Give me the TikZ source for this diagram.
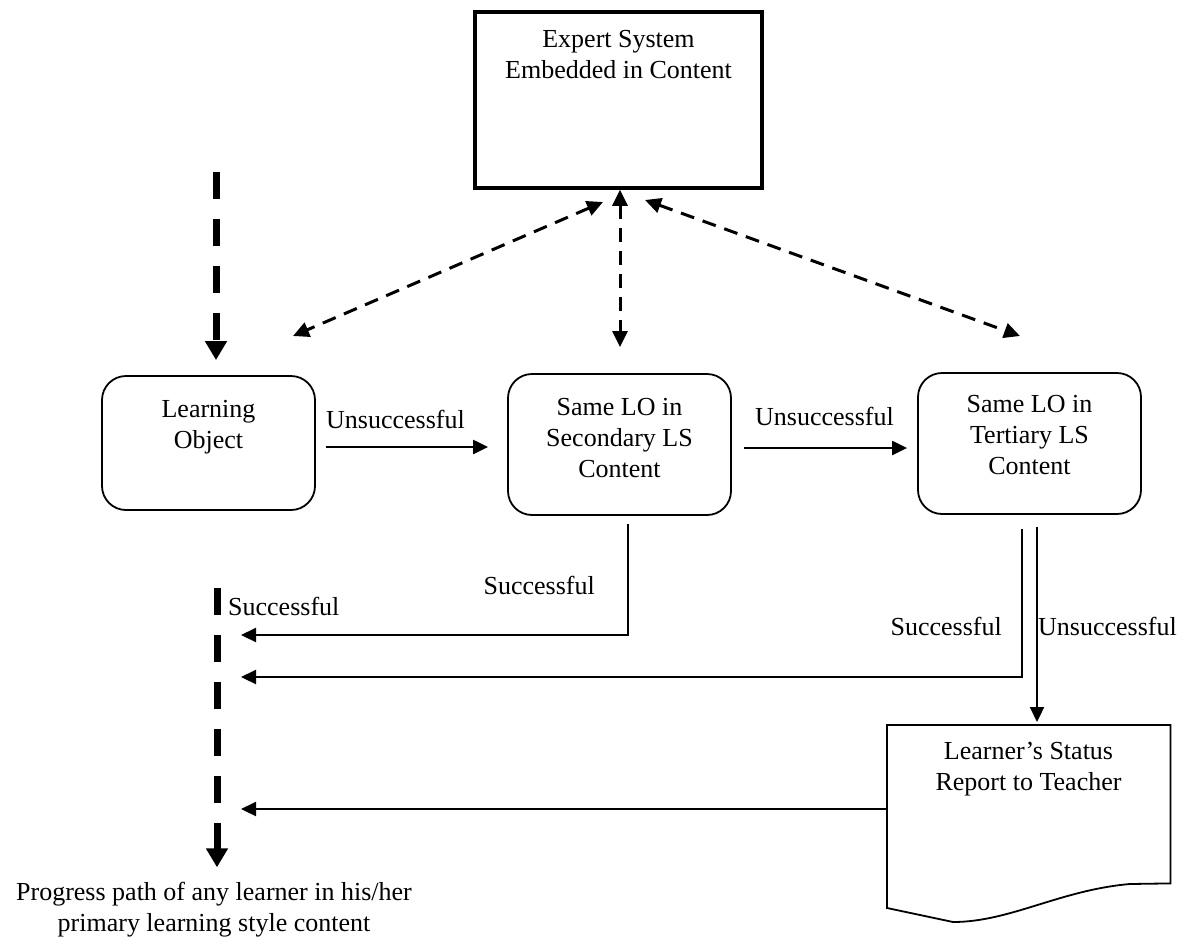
\documentclass[tikz,border=0pt]{standalone}
\usepackage{fontspec}
\setmainfont{Liberation Serif}
\usetikzlibrary{arrows.meta}
\begin{document}
\begin{tikzpicture}[x=1pt,y=-1pt,
  every node/.style={inner sep=0pt, font=\fontsize{26pt}{31pt}\selectfont},
  ebox/.style={draw, line width=3.5pt, minimum width=287pt, minimum height=176pt},
  rbox/.style={draw, line width=1.8pt, rounded corners=24pt, minimum width=223pt, minimum height=141pt},
  btxt/.style={align=center, anchor=north},
  lblw/.style={anchor=base west},
  lble/.style={anchor=base east},
  flow/.style={line width=2.2pt, -{Triangle[length=15pt,width=14pt]}},
  linkd/.style={line width=3pt, dash pattern=on 14pt off 9pt, {Triangle[length=16pt,width=15pt]}-{Triangle[length=16pt,width=15pt]}},
  pathd/.style={line width=7pt, dash pattern=on 27pt off 20pt, -{Triangle[length=19pt,width=21pt]}},
  docshape/.style={draw, line width=1.8pt}
]
\useasboundingbox (0,0) rectangle (1183,937);

% boxes
\node[ebox] (ex) at (618.5,100) {};
\node[rbox, minimum width=213pt, minimum height=134pt] (lo) at (208.5,443) {};
\node[rbox] (sec) at (619.5,444.5) {};
\node[rbox] (ter) at (1029.5,443.5) {};
\node[minimum width=283pt, minimum height=158pt, anchor=north west] (doc) at (887,725) {};
\draw[docshape] (doc.north west) -- (doc.north east) -- (doc.south east) -- (1130,884)
  .. controls (1060,890) and (1010,922) .. (953,922) -- (887,908) -- cycle;

% box texts
\node[btxt] (ext) at (618.5,25.3) {\strut Expert System\\\strut Embedded in Content};
\node[btxt] (lot) at (208.5,395.3) {\strut Learning\\\strut Object};
\node[btxt] (sect) at (619.5,393.3) {\strut Same LO in\\\strut Secondary LS\\\strut Content};
\node[btxt] (tert) at (1029.5,390.3) {\strut Same LO in\\\strut Tertiary LS\\\strut Content};
\node[btxt] (doct) at (1028.5,737.3) {\strut Learner’s Status\\\strut Report to Teacher};
\node[btxt] (prog) at (214,878.3) {\strut Progress path of any learner in his/her\\\strut primary learning style content};

% progress path (thick dashed)
\coordinate (pa) at (216,172);
\draw[pathd, shorten >=15pt] (pa) -- (pa |- lo.north);
\coordinate (pb) at (217,588);
\draw[pathd, shorten >=11pt] (pb) -- (pb |- prog.north);

% links to expert system
\coordinate (l1a) at (603,202);
\coordinate (l1b) at (293,336);
\draw[linkd] (l1a) -- (l1b);
\coordinate (vx) at (620,0);
\draw[linkd] (ex.south -| vx) -- ([yshift=26pt]sec.north -| vx);
\coordinate (l3a) at (645,200);
\coordinate (l3b) at (1020,336);
\draw[linkd] (l3a) -- (l3b);

% unsuccessful flows
\draw[flow] ([xshift=10pt,yshift=-4pt]lo.east) -- ([xshift=-19pt,yshift=-4pt]lo.east -| sec.west);
\draw[flow] ([xshift=12pt,yshift=-3.5pt]sec.east) -- ([xshift=-10pt,yshift=-3.5pt]sec.east -| ter.west);
\node[lblw] (u1) at (326,428) {Unsuccessful};
\node[lblw] (u2) at (755,425) {Unsuccessful};

% successful flows
\coordinate (s1) at (628,0);
\coordinate (j1) at (241,635);
\draw[flow] ([yshift=-8pt]sec.south -| s1) |- (j1);
\coordinate (s2) at (1022,0);
\coordinate (j2) at (241,677);
\draw[flow] ([yshift=-14pt]ter.south -| s2) |- (j2);
\coordinate (s3) at (1037,0);
\draw[flow] ([yshift=-12pt]ter.south -| s3) -- ([yshift=3pt]doc.north -| s3);
\coordinate (j3) at (241,809);
\draw[flow] (doc.west |- j3) -- (j3);

\node[lblw] (sd) at (228,615) {Successful};
\node[lble] (ss) at (595,594) {Successful};
\node[lble] (st) at (1002,635) {Successful};
\node[lblw] (ut) at (1038,635) {Unsuccessful};
\end{tikzpicture}
\end{document}
